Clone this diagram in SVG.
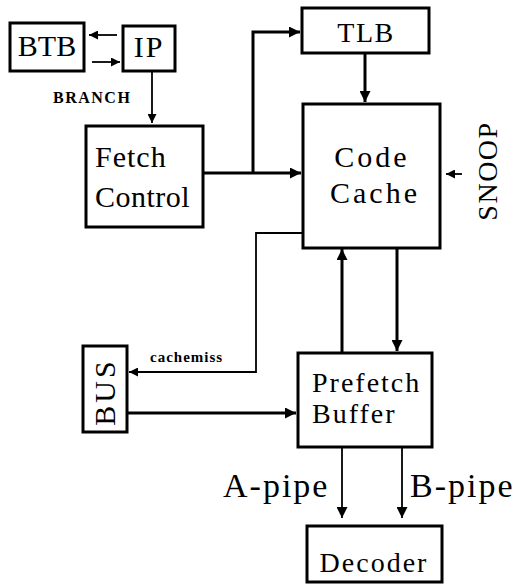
<svg xmlns="http://www.w3.org/2000/svg" width="522" height="584" viewBox="0 0 522 584">
<defs>
<style>
.box{fill:#fff;stroke:#000;stroke-width:3}
.t{font-family:"Liberation Serif","Times New Roman",serif;fill:#000}
.thick{fill:none;stroke:#000;stroke-width:3}
.thin{fill:none;stroke:#000;stroke-width:1.8}
</style>
<marker id="ah" viewBox="0 0 10 10" refX="10" refY="5" markerWidth="12" markerHeight="11" markerUnits="userSpaceOnUse" orient="auto"><path d="M0,0 L10,5 L0,10 z" fill="#000"/></marker>
<marker id="as" viewBox="0 0 10 10" refX="10" refY="5" markerWidth="9" markerHeight="9" markerUnits="userSpaceOnUse" orient="auto"><path d="M0,0 L10,5 L0,10 z" fill="#000"/></marker>
</defs>
<rect width="522" height="584" fill="#fff"/>
<g id="connectors">
<line class="thin" x1="117" y1="35" x2="89" y2="35" marker-end="url(#as)"/>
<line class="thin" x1="92" y1="62" x2="120" y2="62" marker-end="url(#as)"/>
<line class="thin" x1="152" y1="72" x2="152" y2="123" marker-end="url(#as)"/>
<line class="thick" x1="203" y1="173" x2="301" y2="173" marker-end="url(#ah)"/>
<polyline class="thick" points="253,173 253,32 300,32" marker-end="url(#ah)"/>
<line class="thick" x1="365" y1="53" x2="365" y2="102" marker-end="url(#ah)"/>
<line class="thin" x1="462" y1="174" x2="446" y2="174" marker-end="url(#as)"/>
<polyline class="thin" points="302,233 256,233 256,372 129,372" marker-end="url(#as)"/>
<line class="thick" x1="342" y1="352" x2="342" y2="249" marker-end="url(#ah)"/>
<line class="thick" x1="397" y1="248" x2="397" y2="351" marker-end="url(#ah)"/>
<line class="thick" x1="127" y1="413" x2="296" y2="413" marker-end="url(#ah)"/>
<line class="thin" x1="342" y1="447" x2="342" y2="518" marker-end="url(#ah)"/>
<line class="thin" x1="402" y1="447" x2="402" y2="518" marker-end="url(#ah)"/>
</g>
<g id="btb"><rect class="box" x="10" y="23" width="74" height="48"/><text class="t" x="47" y="56" font-size="30" text-anchor="middle">BTB</text></g>
<g id="ip"><rect class="box" x="123" y="26" width="52" height="45"/><text class="t" x="149" y="57" font-size="30" text-anchor="middle" letter-spacing="2">IP</text></g>
<g id="branch-label"><text class="t" x="53" y="103" font-size="16" font-weight="bold" letter-spacing="1.5">BRANCH</text></g>
<g id="tlb"><rect class="box" x="302" y="8" width="127" height="45"/><text class="t" x="366" y="42" font-size="28" text-anchor="middle" letter-spacing="1.5">TLB</text></g>
<g id="fetch"><rect class="box" x="86" y="126" width="117" height="101"/><text class="t" x="95" y="167" font-size="30" letter-spacing="1">Fetch</text><text class="t" x="95" y="207" font-size="30" letter-spacing="0.5">Control</text></g>
<g id="codecache"><rect class="box" x="303" y="104" width="137" height="144"/><text class="t" x="372" y="167" font-size="30" text-anchor="middle" letter-spacing="3">Code</text><text class="t" x="375" y="203" font-size="30" text-anchor="middle" letter-spacing="3">Cache</text></g>
<g id="snoop"><text class="t" transform="translate(497,171) rotate(-90)" font-size="28" text-anchor="middle" letter-spacing="1.5">SNOOP</text></g>
<g id="cachemiss-label"><text class="t" x="150" y="362" font-size="15" font-weight="bold" letter-spacing="1">cachemiss</text></g>
<g id="bus"><rect class="box" x="83" y="346" width="44" height="86"/><text class="t" transform="translate(115,392) rotate(-90)" font-size="30" text-anchor="middle" letter-spacing="3">BUS</text></g>
<g id="prefetch"><rect class="box" x="298" y="353" width="134" height="94"/><text class="t" x="312" y="392" font-size="28" letter-spacing="2">Prefetch</text><text class="t" x="312" y="423" font-size="28" letter-spacing="2">Buffer</text></g>
<g id="pipe-labels"><text class="t" x="223" y="497" font-size="34" letter-spacing="2">A-pipe</text><text class="t" x="410" y="497" font-size="34" letter-spacing="2">B-pipe</text></g>
<g id="decoder"><rect class="box" x="307" y="526" width="135" height="56"/><text class="t" x="374" y="572" font-size="28" text-anchor="middle" letter-spacing="2">Decoder</text></g>
</svg>
